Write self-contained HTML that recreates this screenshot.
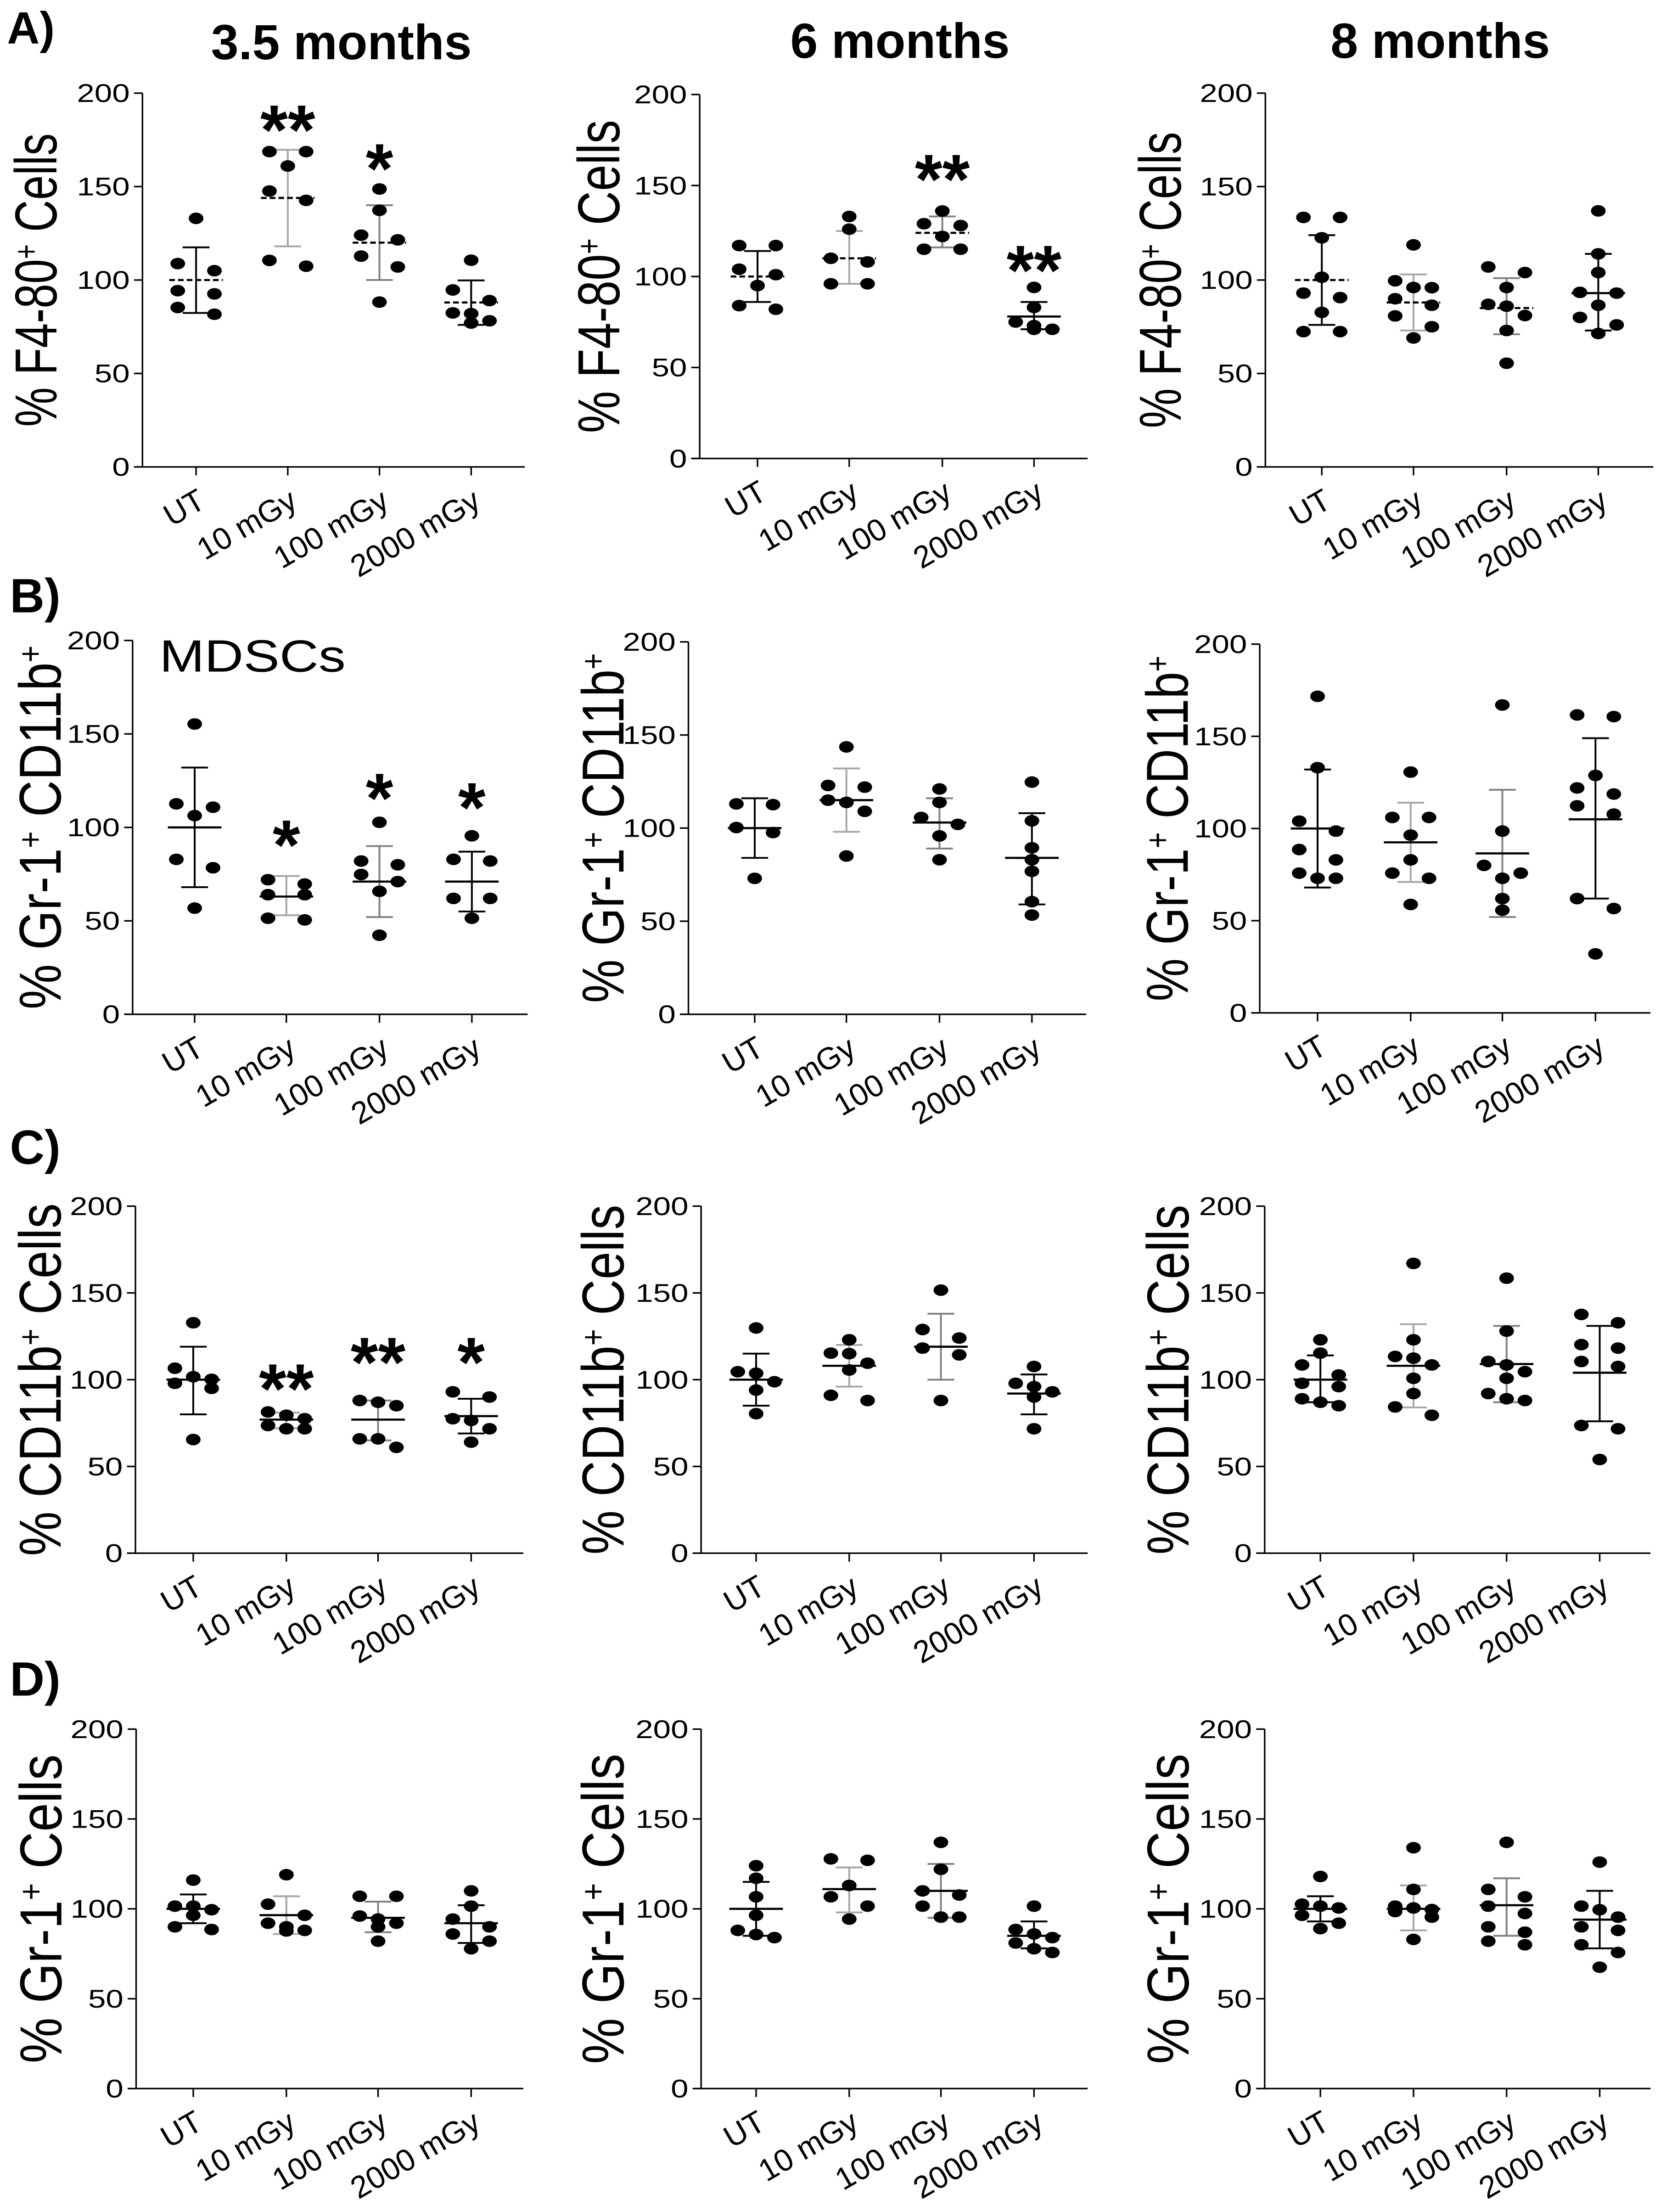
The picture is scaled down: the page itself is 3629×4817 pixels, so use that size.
<!DOCTYPE html>
<html><head><meta charset="utf-8"><style>
html,body{margin:0;padding:0;background:#fff;}
svg{display:block;}
text{font-family:"Liberation Sans",Arial,sans-serif;fill:#000;}
</style></head>
<body>
<svg id="fig" xmlns="http://www.w3.org/2000/svg" width="3629" height="4817" viewBox="0 0 1181 1568" preserveAspectRatio="none">
<rect x="0" y="0" width="1181" height="1568" fill="#fff"/>
<text x="5" y="31" font-size="32" font-weight="bold">A)</text>
<text x="7" y="434" font-size="34" font-weight="bold">B)</text>
<text x="7" y="825" font-size="34" font-weight="bold">C)</text>
<text x="7" y="1202" font-size="34" font-weight="bold">D)</text>
<text x="242" y="42" font-size="35" font-weight="bold" text-anchor="middle">3.5 months</text>
<text x="638" y="41" font-size="35" font-weight="bold" text-anchor="middle">6 months</text>
<text x="1021" y="41" font-size="35" font-weight="bold" text-anchor="middle">8 months</text>
<text x="113" y="476" font-size="32" textLength="132" lengthAdjust="spacingAndGlyphs">MDSCs</text>
</svg>
<script>
const categories = ["UT","10 mGy","100 mGy","2000 mGy"];
const yTicks = [0,50,100,150,200];

const a1_vals = [[133,105,108.8,92.6,94.3,81.7,85.3],[168.7,168.7,161,142.6,147.6,107.4,110.5],[148.7,137.3,124,121.5,112.8,107,88.2],[110.6,94.7,89,82.4,82,78.2,77]];
const a1_mean = [100,143.9,120,88];
const a1_lo = [82.4,118,100,76];
const a1_hi = [117.5,169.7,140,99.8];
const a1_stars = ["","**","*",""];
const a1_starAt = [0,187.7,167,0];

const a2_vals = [[117,117,104,101,95,82,84],[133,126,110,108,96,96],[136,129,128,122,115,115],[94,83,75,73,71,71]];
const a2_mean = [100,110,124,78];
const a2_lo = [86,96,116,71];
const a2_hi = [114,125,133,86];
const a2_stars = ["","","**","**"];
const a2_starAt = [0,0,161,111];

const a3_vals = [[133.5,133.5,122.6,101.5,93,90.6,82.7,72.4,72.4],[118.8,99.6,95.9,96,90,86.5,80.8,75,69],[107,104,96,87,86,81,73,55.5],[137,114,104,93.4,93,86.5,80,76,71.4]];
const a3_mean = [100,88,85,93];
const a3_lo = [76,73,71,73];
const a3_hi = [124,103,101,114];

const b1_vals = [[155.3,112.6,110.8,106.3,82.9,78.4,56.8],[72,69.7,64,64,50.5,51.4],[102.7,82,80,74.8,71,65.8,42.3],[95.5,82.9,82,62,62,51.4]];
const b1_mean = [100,63,71,71];
const b1_lo = [68,53,52,55];
const b1_hi = [132,74,90,87];
const b1_stars = ["","*","*","*"];
const b1_starAt = [0,98,123,118];

const b2_vals = [[113,112.6,100.3,97.6,73],[143.6,122.9,122,115,113.8,109,85],[121,113.8,105.7,102,95.8,83],[124.7,103.9,89.4,83,76.8,60.5,53.3]];
const b2_mean = [100,115,103,84];
const b2_lo = [84,98,89,59];
const b2_hi = [116,132,116,108];

const b3_vals = [[171.7,133,104,98.6,88.6,83,75.8,73,73],[130.6,106,106,96.4,83,75.8,73,58.8],[167,98.6,80,75.8,73,62,55.7],[160.7,161.6,128.8,122,118.7,112.3,107.8,62,56.6,32]];
const b3_mean = [100,92.5,86.5,105];
const b3_lo = [68,71,52,62];
const b3_hi = [132,114,121,149];

const c1_vals = [[132.8,106.6,101.7,100.2,97.9,95,65.5],[81.4,79.5,77.5,73.6,71.7,71.7],[88,87,85,65.9,65.9,61],[93,90,77.5,76.5,71.7,64]];
const c1_mean = [100,77,77,79];
const c1_lo = [80,72,65,69];
const c1_hi = [119,81,88,89];
const c1_stars = ["","**","**","*"];
const c1_starAt = [0,102.7,118,118];

const c2_vals = [[129.8,104.6,103.7,98.8,94,80.4],[123,115.3,115,109.5,105.6,88,91],[151.6,128.9,124,118.2,114.3,88],[107.6,97.9,96,93,90,71.7]];
const c2_mean = [100,108,119,92];
const c2_lo = [85,96,100,80];
const c2_hi = [115,120,138,103];

const c3_vals = [[123,115.3,108.5,102.7,97.9,96,87,85,89],[167,123,113.4,112.4,108.5,100.8,92,84.3,79.5],[158.5,128,110.5,108.5,104.6,100.8,92,89,88],[137.6,132.8,120.2,118.2,110.5,107.6,73.6,71.7,54]];
const c3_mean = [100,108,109,104];
const c3_lo = [87,84,87,76];
const c3_hi = [114,132,131,131];

const d1_vals = [[116,101.5,101.5,99.5,96.4,90,88.5],[119,102.6,96.4,92,90,88,87.7],[107,107,96,94.3,92,90,82],[110,101.5,94.3,90,86,82,77.8]];
const d1_mean = [100,96.5,95,92];
const d1_lo = [92,86,87,81];
const d1_hi = [108,107,104,102];

const d2_vals = [[124,117,106.7,96.4,88,84,85.7],[127.8,127,113,106.7,101.5,94.3],[137,122,110,107.7,101.5,95.4,95.4],[101.5,88.5,86,84,81,77.8,75.7]];
const d2_mean = [100,111,110,85];
const d2_lo = [85,98,95,78];
const d2_hi = [115,123,125,93];

const d3_vals = [[118,102.6,101.5,100.5,96.4,92,89],[134,110.8,101.5,100.5,98.5,95.4,83,99.6],[137,110.8,106.7,101.5,97.4,90,87,82,80],[126,101.5,99.5,95.4,88,80,75.7,67.5,90]];
const d3_mean = [100,100,102,94];
const d3_lo = [93,88,85,78];
const d3_hi = [107,113,117,110];

const titleA = ["% F4-80", "+", " Cells"];
const titleB = ["% Gr-1", "+", " CD11b", "+"];
const titleC = ["% CD11b", "+", " Cells"];
const titleD = ["% Gr-1", "+", " Cells"];

const NS = "http://www.w3.org/2000/svg";
const svg = document.getElementById("fig");
const barColors = ["#000000","#a6a6a6","#808080","#000000"];

function mk(tag, attrs, parent) {
  const e = document.createElementNS(NS, tag);
  for (const k in attrs) e.setAttribute(k, attrs[k]);
  (parent || svg).appendChild(e);
  return e;
}

function panel(id, g, vals, mean, lo, hi, stars, starAt, title, titleLen, titleOff, dashed) {
  const grp = mk("g", {});
  
  
  const yS = v => g.y0 - (v / 200) * (g.y0 - g.y200);
  const xS = i => g.cats[i];
  const ya = mk("line", {x1:g.ax, y1:g.y0, x2:g.ax, y2:g.y200, stroke:"#000", "stroke-width":1.1}, grp);
  
  
  const xa = mk("line", {x1:g.ax-6, y1:g.y0, x2:g.right, y2:g.y0, stroke:"#000", "stroke-width":1.1}, grp);
  
  
  yTicks.forEach(t => {
    const y = yS(t);
    const tk = mk("line", {x1:g.ax-6, y1:y, x2:g.ax, y2:y, stroke:"#000", "stroke-width":1.1}, grp);
    
    
    const tl = mk("text", {transform:"translate(" + (g.ax-9) + "," + (y+6.3) + ") scale(1.25,1)", "font-size":18, "text-anchor":"end"}, grp);
    tl.textContent = t;
    
    
  });
  categories.forEach((c, i) => {
    const x = xS(i);
    const tk = mk("line", {x1:x, y1:g.y0, x2:x, y2:g.y0+6, stroke:"#000", "stroke-width":1.1}, grp);
    
    
    const tl = mk("text", {transform:"translate(" + (x+8) + "," + (g.y0+28) + ") rotate(-30)", "font-size":22, "text-anchor":"end"}, grp);
    tl.textContent = c;
    
    
  });
  const tt = mk("text", {transform:"translate(" + (g.ax-titleOff) + "," + ((g.y0+g.y200)/2) + ") rotate(-90)", "font-size":42, "text-anchor":"middle", textLength:titleLen, lengthAdjust:"spacingAndGlyphs"}, grp);
  
  
  title.forEach(part => {
    const s = document.createElementNS(NS, "tspan");
    if (part === "+") { s.setAttribute("baseline-shift", "super"); s.setAttribute("font-size", "24"); }
    s.textContent = part;
    tt.appendChild(s);
  });
  vals.forEach((arr, i) => {
    const cx = xS(i);
    const col = barColors[i];
    const eb = mk("line", {x1:cx, y1:yS(lo[i]), x2:cx, y2:yS(hi[i]), stroke:col, "stroke-width":1.3}, grp);
    
    
    [lo[i], hi[i]].forEach(v => {
      const cp = mk("line", {x1:cx-9.5, y1:yS(v), x2:cx+9.5, y2:yS(v), stroke:col, "stroke-width":1.3}, grp);
      
      
    });
    const sorted = arr.map(v => v).sort((a, b) => b - a);
    const clusters = [];
    sorted.forEach(v => {
      const last = clusters[clusters.length - 1];
      if (last && last.length < 3 && Math.abs(yS(last[0]) - yS(v)) < 8) last.push(v); else clusters.push([v]);
    });
    clusters.forEach(cl => {
      const n = cl.length;
      cl.forEach((v, k) => {
        const dx = (k - (n - 1) / 2) * (n === 2 ? 26 : 13);
        const d = mk("ellipse", {cx:cx + dx, cy:yS(v), rx:5.2, ry:4.1, fill:"#000"}, grp);
        
        
      });
    });
    const isDash = dashed && dashed[i];
    const ml = mk("line", {x1:cx-19, y1:yS(mean[i]), x2:cx+19, y2:yS(mean[i]), stroke:"#000", "stroke-width":1.5}, grp);
    if (isDash) ml.setAttribute("stroke-dasharray", "4 2.2");
    
    
    if (stars && stars[i]) {
      const st = mk("text", {x:cx, y:yS(starAt[i]) + 27, "font-size":50, "font-weight":"bold", "text-anchor":"middle"}, grp);
      st.textContent = stars[i];
      
      
    }
  });
}

const allDash = [true,true,true,true];
const dash3 = [true,true,true,false];
panel("a1", {ax:101, cats:[139,204,269,334], right:372, y200:66, y0:331}, a1_vals, a1_mean, a1_lo, a1_hi, a1_stars, a1_starAt, titleA, 208, 61, allDash);
panel("a2", {ax:496, cats:[537,602,668,733], right:771, y200:67, y0:325}, a2_vals, a2_mean, a2_lo, a2_hi, a2_stars, a2_starAt, titleA, 222, 57, dash3);
panel("a3", {ax:897, cats:[937,1002,1068,1133], right:1172, y200:66, y0:331}, a3_vals, a3_mean, a3_lo, a3_hi, null, null, titleA, 210, 60, dash3);
panel("b1", {ax:94, cats:[138,203,269,334.5], right:374, y200:454, y0:719}, b1_vals, b1_mean, b1_lo, b1_hi, b1_stars, b1_starAt, titleB, 258, 51, null);
panel("b2", {ax:488, cats:[535,600,666,731.5], right:770, y200:455, y0:719}, b2_vals, b2_mean, b2_lo, b2_hi, null, null, titleB, 248, 46, null);
panel("b3", {ax:893, cats:[934,1000,1065,1131], right:1170, y200:456.6, y0:718}, b3_vals, b3_mean, b3_lo, b3_hi, null, null, titleB, 245, 51, null);
panel("c1", {ax:96, cats:[137,203,268,334], right:371, y200:855, y0:1101}, c1_vals, c1_mean, c1_lo, c1_hi, c1_stars, c1_starAt, titleC, 250, 53, null);
panel("c2", {ax:497, cats:[536,602,667,733], right:771, y200:855, y0:1101}, c2_vals, c2_mean, c2_lo, c2_hi, null, null, titleC, 248, 55, null);
panel("c3", {ax:896.5, cats:[936,1002,1068,1134], right:1170, y200:855, y0:1101}, c3_vals, c3_mean, c3_lo, c3_hi, null, null, titleC, 248, 54, null);
panel("d1", {ax:96.5, cats:[137,203,268,334], right:371, y200:1225.7, y0:1480.5}, d1_vals, d1_mean, d1_lo, d1_hi, null, null, titleD, 219, 53, null);
panel("d2", {ax:497, cats:[536,602,667,733], right:771, y200:1225.7, y0:1480.5}, d2_vals, d2_mean, d2_lo, d2_hi, null, null, titleD, 220, 55, null);
panel("d3", {ax:896.5, cats:[936,1002,1068,1134], right:1170, y200:1225.7, y0:1480.5}, d3_vals, d3_mean, d3_lo, d3_hi, null, null, titleD, 220, 54, null);
</script>
</body></html>
